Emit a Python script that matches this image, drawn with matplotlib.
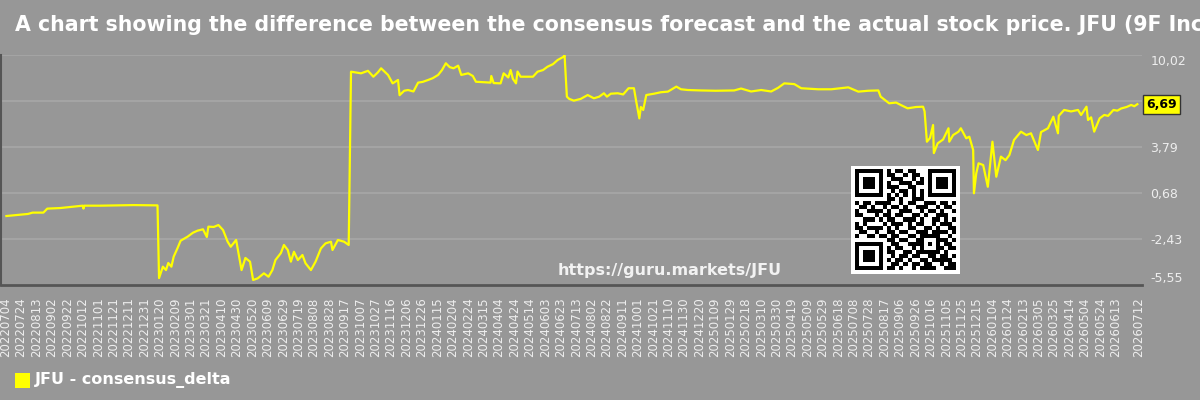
import matplotlib
matplotlib.use("Agg")
import matplotlib.pyplot as plt
import numpy as np
import pandas as pd
from datetime import datetime
from matplotlib.patches import Rectangle

# consensus delta readings (date, value)
dates = [
    "20220705", "20220802", "20220808", "20220822", "20220827", "20220913", "20221012", "20221013",
    "20221014", "20221104", "20221217", "20230117", "20230119", "20230124", "20230128", "20230131",
    "20230204", "20230207", "20230212", "20230216", "20230225", "20230304", "20230310", "20230317",
    "20230322", "20230324", "20230331", "20230406", "20230412", "20230418", "20230422", "20230429",
    "20230502", "20230506", "20230511", "20230517", "20230521", "20230527", "20230604", "20230610",
    "20230615", "20230619", "20230626", "20230630", "20230705", "20230709", "20230713", "20230718",
    "20230724", "20230728", "20230804", "20230810", "20230817", "20230823", "20230830", "20230901",
    "20230908", "20230916", "20230922", "20230925", "20231008", "20231017", "20231024", "20231030",
    "20231103", "20231112", "20231118", "20231125", "20231127", "20231203", "20231208", "20231215",
    "20231221", "20231227", "20240103", "20240109", "20240116", "20240121", "20240126", "20240131",
    "20240205", "20240211", "20240215", "20240224", "20240301", "20240305", "20240324", "20240325",
    "20240328", "20240406", "20240410", "20240416", "20240419", "20240422", "20240426", "20240428",
    "20240502", "20240509", "20240518", "20240524", "20240531", "20240606", "20240613", "20240619",
    "20240627", "20240628", "20240701", "20240704", "20240710", "20240719", "20240728", "20240805",
    "20240812", "20240818", "20240822", "20240827", "20240905", "20240912", "20240919", "20240926",
    "20240929", "20241003", "20241005", "20241008", "20241012", "20241022", "20241031", "20241109",
    "20241120", "20241126", "20241205", "20241222", "20250110", "20250203", "20250212", "20250225",
    "20250310", "20250323", "20250401", "20250409", "20250422", "20250501", "20250523", "20250609",
    "20250701", "20250714", "20250727", "20250809", "20250812", "20250823", "20250901", "20250907",
    "20250916", "20250927", "20251006", "20251008", "20251011", "20251015", "20251019", "20251020",
    "20251025", "20251101", "20251108", "20251109", "20251114", "20251121", "20251124", "20251201",
    "20251205", "20251210", "20251211", "20251214", "20251217", "20251223", "20251229", "20260104",
    "20260109", "20260115", "20260121", "20260126", "20260201", "20260210", "20260217", "20260223",
    "20260304", "20260308", "20260317", "20260324", "20260330", "20260331", "20260407", "20260416",
    "20260425", "20260429", "20260506", "20260508", "20260512", "20260516", "20260523", "20260529",
    "20260603", "20260610", "20260615", "20260620", "20260627", "20260703", "20260707", "20260711",
]
values = [
    -0.88, -0.74, -0.65, -0.65, -0.38, -0.34, -0.18, -0.38,
    -0.18, -0.18, -0.14, -0.16, -5.08, -4.31, -4.54, -4.06,
    -4.31, -3.63, -3.05, -2.55, -2.28, -2.01, -1.87, -1.78,
    -2.30, -1.60, -1.62, -1.49, -1.83, -2.62, -2.96, -2.50,
    -3.38, -4.54, -3.72, -3.97, -5.21, -5.10, -4.76, -4.99,
    -4.54, -3.86, -3.39, -2.84, -3.18, -3.97, -3.30, -3.86,
    -3.52, -4.08, -4.54, -3.97, -3.07, -2.73, -2.62, -3.18,
    -2.50, -2.62, -2.84, 8.89, 8.78, 8.95, 8.55, 8.85,
    9.12, 8.67, 8.10, 8.33, 7.30, 7.60, 7.65, 7.55,
    8.15, 8.20, 8.33, 8.45, 8.67, 9.00, 9.46, 9.20,
    9.12, 9.30, 8.67, 8.78, 8.60, 8.21, 8.15, 8.60,
    8.12, 8.10, 8.78, 8.50, 9.00, 8.40, 8.10, 8.90,
    8.55, 8.55, 8.55, 8.89, 9.00, 9.23, 9.40, 9.68,
    9.91, 10.00, 7.20, 7.05, 6.93, 7.05, 7.31, 7.09,
    7.20, 7.43, 7.20, 7.40, 7.43, 7.35, 7.77, 7.77,
    6.86, 5.73, 6.50, 6.30, 7.31, 7.40, 7.50, 7.54,
    7.88, 7.70, 7.65, 7.62, 7.60, 7.62, 7.75, 7.55,
    7.65, 7.55, 7.80, 8.10, 8.05, 7.77, 7.70, 7.70,
    7.83, 7.54, 7.60, 7.62, 7.20, 6.75, 6.80, 6.64,
    6.41, 6.50, 6.52, 6.20, 4.15, 4.40, 5.28, 3.38,
    4.04, 4.30, 5.06, 4.15, 4.60, 4.83, 5.06, 4.38,
    4.49, 3.59, 0.66, 2.00, 2.69, 2.57, 1.10, 4.15,
    1.78, 3.14, 2.90, 3.25, 4.27, 4.83, 4.60, 4.72,
    3.59, 4.80, 5.06, 5.84, 4.72, 5.90, 6.30, 6.20,
    6.30, 5.96, 6.52, 5.62, 5.80, 4.83, 5.73, 5.96,
    5.90, 6.30, 6.25, 6.40, 6.50, 6.64, 6.55, 6.69,
]

tick_dates = [
    "20220704", "20220724", "20220813", "20220902", "20220922", "20221012", "20221101", "20221121",
    "20221211", "20221231", "20230120", "20230209", "20230301", "20230321", "20230410", "20230430",
    "20230520", "20230609", "20230629", "20230719", "20230808", "20230828", "20230917", "20231007",
    "20231027", "20231116", "20231206", "20231226", "20240115", "20240204", "20240224", "20240315",
    "20240404", "20240424", "20240514", "20240603", "20240623", "20240713", "20240802", "20240822",
    "20240911", "20241001", "20241021", "20241110", "20241130", "20241220", "20250109", "20250129",
    "20250218", "20250310", "20250330", "20250419", "20250509", "20250529", "20250618", "20250708",
    "20250728", "20250817", "20250906", "20250926", "20251016", "20251105", "20251125", "20251215",
    "20260104", "20260124", "20260213", "20260305", "20260325", "20260414", "20260504", "20260524",
    "20260613", "20260712",
]

y_ticks = [-5.55, -2.44, 0.68, 3.79, 6.91, 10.02]
y_labels = ["-5,55", "-2,43", "0,68", "3,79", "", "10,02"]
last_value = 6.69
last_label = "6,69"

title = ("A chart showing the difference between the consensus forecast and the actual "
         "stock price. JFU (9F Inc.)")
legend_label = "JFU - consensus_delta"
watermark = "https://guru.markets/JFU"

# QR code modules (approximate)
qr_rows = [
    "1111111010110110001111111",
    "1000001011001011001000001",
    "1011101001110010101011101",
    "1011101010011101101011101",
    "1011101011100110001011101",
    "1000001001011010101000001",
    "1111111010101010101111111",
    "0000000011010011100000000",
    "1011011110010110011101101",
    "0110100101101001110010110",
    "1001111010011100101101001",
    "1100010110110011010011100",
    "0011101011001110100110101",
    "1010000101110101100101110",
    "1101111010100110011010011",
    "0110010011011001110111101",
    "1001101101100110111110010",
    "0000000011011001100011101",
    "1111111001100111101010110",
    "1000001010110010100011011",
    "1011101011001101111110100",
    "1011101001011011001101101",
    "1011101010110100110111110",
    "1000001001101011011001011",
    "1111111011010010111100111",
]

bg = "#979797"
grid_c = "#a4a4a4"
txt_c = "#eeeeee"

x = pd.to_datetime(dates, format="%Y%m%d")
tx = pd.to_datetime(tick_dates, format="%Y%m%d")

fig = plt.figure(figsize=(12, 4), dpi=100, facecolor=bg)
ax = fig.add_axes([1 / 1200, 1 - 285 / 400, 1141 / 1200, 230 / 400], facecolor=bg)

ax.plot(x, values, color="#ffff00", lw=1.6, zorder=3)

ax.set_xlim(datetime(2022, 6, 28), datetime(2026, 7, 17))
ax.set_ylim(-5.55, 10.02)

ax.set_xticks(tx)
ax.set_xticklabels(tick_dates, rotation=90, fontsize=8.5, color=txt_c)
ax.tick_params(axis="x", length=0, pad=9)

ax.yaxis.tick_right()
ax.set_yticks(y_ticks)
ylabs = ax.set_yticklabels(y_labels, fontsize=9, color=txt_c)
ylabs[0].set_va("bottom")
ylabs[-1].set_va("top")
ax.tick_params(axis="y", length=0, pad=6)

ax.grid(axis="y", color=grid_c, lw=1.5)
ax.set_axisbelow(True)
for s in ["top", "right"]:
    ax.spines[s].set_visible(False)
ax.spines["bottom"].set_color("#555555")
ax.spines["bottom"].set_linewidth(2)
ax.spines["left"].set_color("#555555")
ax.spines["left"].set_linewidth(1.5)

# last value marker on the right axis
ax.text(1.0035, last_value, last_label, transform=ax.get_yaxis_transform(),
        ha="left", va="center", fontsize=9, fontweight="bold", color="black",
        bbox=dict(boxstyle="square,pad=0.25", fc="#ffff00", ec="#333333", lw=1))

fig.text(0.0125, 0.9375, title, ha="left", va="center", fontsize=14.8,
         fontweight="bold", color="white")

fig.text(670 / 1200, 1 - 270 / 400, watermark, ha="center", va="center",
         fontsize=11.5, fontweight="bold", color="#f2f2f2")

# legend
fig.patches.append(Rectangle((15 / 1200, 1 - 388 / 400), 15 / 1200, 15 / 400,
                             transform=fig.transFigure, fc="#ffff00", ec="none"))
fig.text(35 / 1200, 1 - 380 / 400, legend_label, ha="left", va="center",
         fontsize=11.5, fontweight="bold", color="white")

# QR code
qr = np.array([[int(c) for c in r] for r in qr_rows])
qr = np.pad(qr, 1)
qax = fig.add_axes([851 / 1200, 1 - 275 / 400, 109 / 1200, 110 / 400])
qax.imshow(qr, cmap="gray_r", interpolation="nearest", vmin=0, vmax=1)
qax.axis("off")

fig.savefig("out.png", dpi=100, facecolor=bg)
